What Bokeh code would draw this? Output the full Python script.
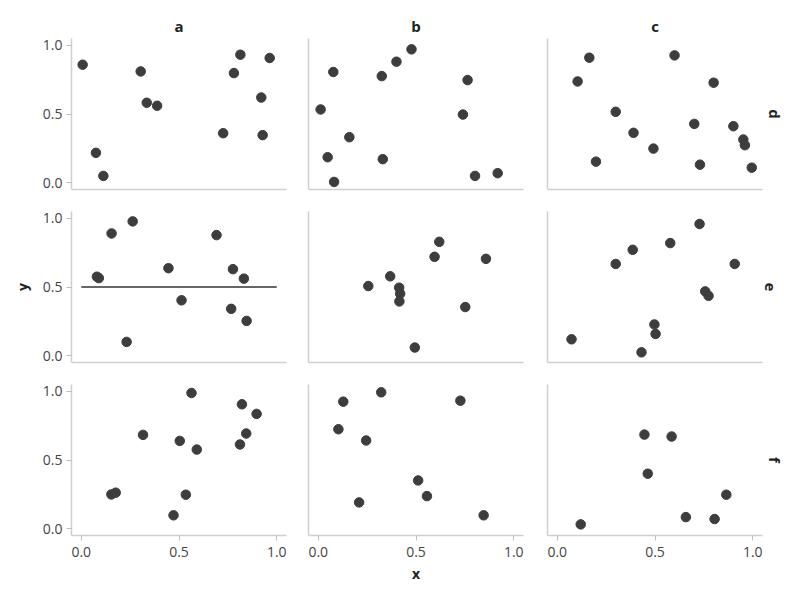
from bokeh.plotting import figure
from bokeh.layouts import column, row
from bokeh.models import Range1d, Title, FixedTicker
from bokeh.embed import file_html
from bokeh.resources import INLINE

# ---- data ----
col_facets = ["a", "b", "c"]
row_facets = ["d", "e", "f"]
tick_values = [0.0, 0.5, 1.0]
tick_labels = ["0.0", "0.5", "1.0"]

a_d_x = [0.007, 0.075, 0.113, 0.304, 0.335, 0.388, 0.726, 0.781, 0.814, 0.921, 0.928, 0.964]
a_d_y = [0.859, 0.217, 0.049, 0.810, 0.582, 0.560, 0.360, 0.798, 0.932, 0.620, 0.346, 0.908]
b_d_x = [0.012, 0.048, 0.077, 0.081, 0.159, 0.325, 0.330, 0.400, 0.477, 0.740, 0.764, 0.802, 0.918]
b_d_y = [0.533, 0.185, 0.806, 0.005, 0.331, 0.776, 0.171, 0.881, 0.971, 0.496, 0.747, 0.049, 0.069]
c_d_x = [0.104, 0.164, 0.198, 0.299, 0.390, 0.492, 0.600, 0.701, 0.730, 0.800, 0.901, 0.952, 0.960, 0.995]
c_d_y = [0.737, 0.910, 0.153, 0.516, 0.363, 0.248, 0.927, 0.428, 0.131, 0.728, 0.411, 0.314, 0.273, 0.109]

a_e_x = [0.080, 0.090, 0.155, 0.263, 0.232, 0.446, 0.513, 0.692, 0.767, 0.776, 0.832, 0.846]
a_e_y = [0.575, 0.565, 0.890, 0.978, 0.100, 0.637, 0.403, 0.878, 0.341, 0.630, 0.561, 0.253]
b_e_x = [0.256, 0.368, 0.414, 0.419, 0.415, 0.494, 0.595, 0.619, 0.752, 0.858]
b_e_y = [0.507, 0.578, 0.495, 0.451, 0.395, 0.059, 0.720, 0.829, 0.354, 0.705]
c_e_x = [0.073, 0.299, 0.386, 0.431, 0.497, 0.503, 0.578, 0.728, 0.757, 0.774, 0.908]
c_e_y = [0.119, 0.668, 0.771, 0.024, 0.227, 0.158, 0.820, 0.959, 0.468, 0.436, 0.668]

a_f_x = [0.154, 0.176, 0.316, 0.472, 0.504, 0.535, 0.564, 0.591, 0.812, 0.822, 0.844, 0.897]
a_f_y = [0.249, 0.262, 0.683, 0.097, 0.639, 0.247, 0.988, 0.576, 0.613, 0.906, 0.693, 0.836]
b_f_x = [0.103, 0.128, 0.209, 0.245, 0.322, 0.511, 0.556, 0.727, 0.846]
b_f_y = [0.724, 0.925, 0.191, 0.642, 0.993, 0.351, 0.237, 0.932, 0.097]
c_f_x = [0.120, 0.446, 0.463, 0.585, 0.658, 0.805, 0.865]
c_f_y = [0.031, 0.685, 0.400, 0.671, 0.084, 0.070, 0.247]

# segment in panel (a, e)
seg_x0 = [0.0]
seg_x1 = [1.0]
seg_y = [0.5]

panel_data = {
    ("a", "d"): (a_d_x, a_d_y), ("b", "d"): (b_d_x, b_d_y), ("c", "d"): (c_d_x, c_d_y),
    ("a", "e"): (a_e_x, a_e_y), ("b", "e"): (b_e_x, b_e_y), ("c", "e"): (c_e_x, c_e_y),
    ("a", "f"): (a_f_x, a_f_y), ("b", "f"): (b_f_x, b_f_y), ("c", "f"): (c_f_x, c_f_y),
}

# ---- style ----
FONT = "Open Sans"
AXIS_COLOR = "#cfcfcf"
TICK_COLOR = "#bdbdbd"
LABEL_COLOR = "#454545"
POINT_COLOR = "#3d3d3d"

col_borders = [(71, 10), (12, 10), (14, 24)]
row_borders = [(38, 10), (12, 10), (12, 52)]

xr = Range1d(-0.05, 1.05)
yr = Range1d(-0.05, 1.05)

rows_out = []
for ri, rf in enumerate(row_facets):
    figs = []
    for ci, cf in enumerate(col_facets):
        bl, br = col_borders[ci]
        bt, bb = row_borders[ri]
        p = figure(frame_width=215, frame_height=151, x_range=xr, y_range=yr,
                   output_backend="svg", toolbar_location=None,
                   min_border_left=bl, min_border_right=br,
                   min_border_top=bt, min_border_bottom=bb)
        p.xgrid.visible = False
        p.ygrid.visible = False
        p.outline_line_color = None
        p.background_fill_color = "white"
        p.border_fill_color = "white"
        for ax in (p.xaxis[0], p.yaxis[0]):
            ax.ticker = FixedTicker(ticks=tick_values)
            ax.major_label_overrides = {v: l for v, l in zip(tick_values, tick_labels)}
            ax.axis_line_color = AXIS_COLOR
            ax.axis_line_width = 1.5
            ax.major_tick_line_color = TICK_COLOR
            ax.major_tick_line_width = 1
            ax.major_tick_out = 5
            ax.major_tick_in = 0
            ax.minor_tick_line_color = None
            ax.major_label_text_font = FONT
            ax.major_label_text_font_size = "14px"
            ax.major_label_text_color = LABEL_COLOR
            ax.major_label_standoff = 4
            ax.axis_label_text_font = FONT
            ax.axis_label_text_font_size = "14px"
            ax.axis_label_text_font_style = "bold"
            ax.axis_label_text_color = "#222222"
        p.xaxis.major_label_standoff = 6
        if ci != 0:
            p.yaxis.ticker = FixedTicker(ticks=[])
            p.yaxis.major_tick_line_color = None
        if ri != 2:
            p.xaxis.ticker = FixedTicker(ticks=[])
            p.xaxis.major_tick_line_color = None
        if ci == 0 and ri == 1:
            p.yaxis.axis_label = "y"
            p.yaxis.axis_label_standoff = 8
        if ri == 2 and ci == 1:
            p.xaxis.axis_label = "x"
            p.xaxis.axis_label_standoff = 4
        if ri == 0:
            p.add_layout(Title(text=cf, align="center", text_font=FONT,
                               text_font_size="15px", text_font_style="bold",
                               text_color="#222222", standoff=6), "above")
        if ci == 2:
            p.add_layout(Title(text=rf, align="center", text_font=FONT,
                               text_font_size="15px", text_font_style="bold",
                               text_color="#222222", standoff=4), "right")
        xs, ys = panel_data[(cf, rf)]
        if cf == "a" and rf == "e":
            p.segment(x0=seg_x0, y0=seg_y, x1=seg_x1, y1=seg_y,
                      line_color="#333333", line_width=1.5)
        p.scatter(xs, ys, size=9.5, fill_color=POINT_COLOR, line_color=POINT_COLOR)
        figs.append(p)
    rows_out.append(row(*figs))

layout = column(*rows_out)
open("out.html", "w").write(file_html(layout, INLINE))
